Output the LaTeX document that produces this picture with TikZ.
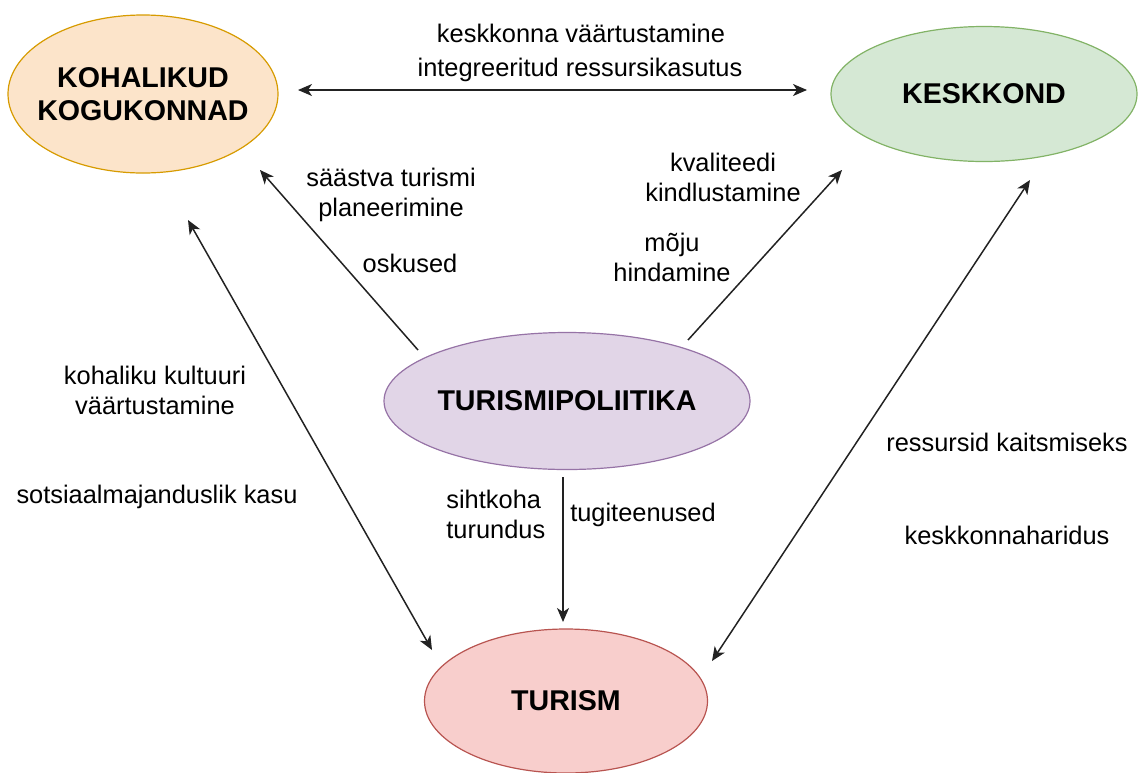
\documentclass[tikz,border=0pt]{standalone}
\usepackage{fontspec}
\setmainfont{Liberation Sans}
\usetikzlibrary{shapes.geometric,arrows.meta}
\definecolor{orfill}{HTML}{FCE4CA}
\definecolor{ordraw}{HTML}{D79B00}
\definecolor{grfill}{HTML}{D5E8D4}
\definecolor{grdraw}{HTML}{82B366}
\definecolor{pufill}{HTML}{E1D5E7}
\definecolor{pudraw}{HTML}{9673A6}
\definecolor{refill}{HTML}{F8CECC}
\definecolor{redraw}{HTML}{B85450}
\definecolor{linec}{HTML}{222222}
\begin{document}
\begin{tikzpicture}[x=0.5pt,y=-0.5pt,
  ell/.style={ellipse, draw, line width=0.6pt, inner xsep=-20pt, inner ysep=-8pt, align=center,
    font=\fontsize{14.3}{16.5}\selectfont\bfseries},
  lbl/.style={font=\fontsize{12.7}{15}\selectfont, align=center, inner sep=0pt},
  tip/.tip={Stealth[length=7pt,width=6pt,inset=2pt]},
  conn/.style={line width=0.75pt, draw=linec, -tip},
  bconn/.style={line width=0.75pt, draw=linec, tip-tip}]
\useasboundingbox (0,0) rectangle (1139,772);

% ellipses
\node[ell, fill=orfill, draw=ordraw, minimum width=135pt, minimum height=79pt] (kk) at (143,94) {KOHALIKUD\\KOGUKONNAD};
\node[ell, fill=grfill, draw=grdraw, minimum width=153pt, minimum height=67.5pt] (ke) at (984,94) {KESKKOND};
\node[ell, fill=pufill, draw=pudraw, minimum width=183pt, minimum height=68.5pt] (tp) at (567,401) {TURISMIPOLIITIKA};
\node[ell, fill=refill, draw=redraw, minimum width=141.5pt, minimum height=72pt] (tu) at (566,701) {TURISM};

% connector end points
\coordinate (a1s) at (298,90);
\coordinate (a1e) at (807,90);
\coordinate (a2s) at (418,350);
\coordinate (a2e) at (260,170);
\coordinate (a3s) at (688,340);
\coordinate (a3e) at (842,170);
\coordinate (a4s) at (188,220);
\coordinate (a4e) at (432,650);
\coordinate (a5s) at (1030,180);
\coordinate (a5e) at (712,661);
\coordinate (a6s) at (563,477);
\coordinate (a6e) at (563,622);

\draw[bconn] (a1s) -- (a1e);
\draw[conn] (a2s) -- (a2e);
\draw[conn] (a3s) -- (a3e);
\draw[bconn] (a4s) -- (a4e);
\draw[bconn] (a5s) -- (a5e);
\draw[conn] (a6s) -- (a6e);

% labels
\node[lbl] (l1) at (581,33) {keskkonna väärtustamine};
\node[lbl] (l2) at (580,70) {integreeritud ressursikasutus};
\node[lbl] (l3) at (391,195) {säästva turismi\\planeerimine};
\node[lbl] (l4) at (410,263) {oskused};
\node[lbl] (l5) at (723,177) {kvaliteedi\\kindlustamine};
\node[lbl] (l6) at (672,257) {mõju\\hindamine};
\node[lbl] (l7) at (155,390) {kohaliku kultuuri\\väärtustamine};
\node[lbl] (l8) at (157,497) {sotsiaalmajanduslik kasu};
\node[lbl, align=left, anchor=west] (l9) at (446,514) {sihtkoha\\turundus};
\node[lbl] (l10) at (643,515) {tugiteenused};
\node[lbl] (l11) at (1007,442) {ressursid kaitsmiseks};
\node[lbl] (l12) at (1007,535) {keskkonnaharidus};
\end{tikzpicture}
\end{document}
